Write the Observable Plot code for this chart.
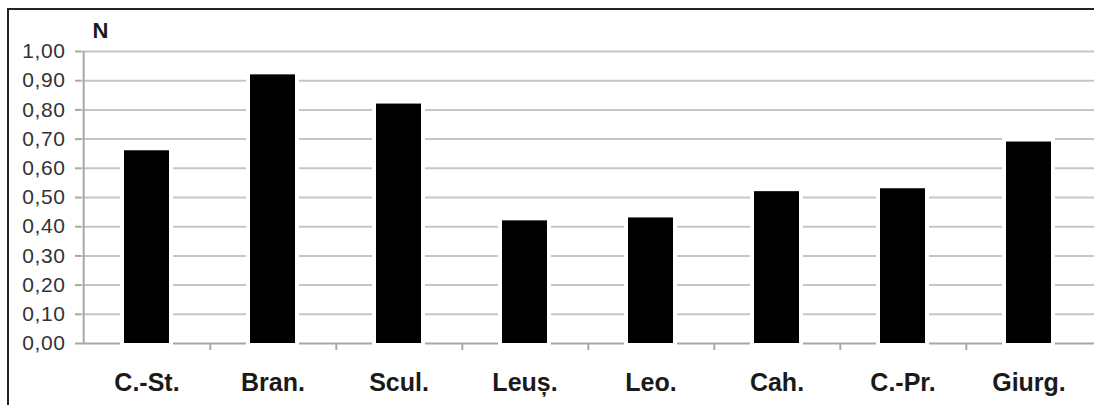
<!DOCTYPE html>
<html>
<head>
<meta charset="utf-8">
<script src="https://cdn.jsdelivr.net/npm/d3@7"></script>
<script src="https://cdn.jsdelivr.net/npm/@observablehq/plot@0.6"></script>
<style>
  html, body { margin: 0; padding: 0; background: #fff; overflow: hidden; }
  #wrap { position: relative; width: 1094px; height: 405px; overflow: hidden; }
  #bt { position: absolute; left: 7px; top: 8px; width: 1087px; height: 2px; background: #222; }
  #bl { position: absolute; left: 7px; top: 8px; width: 2px; height: 397px; background: #222; }
</style>
</head>
<body>
<div id="wrap"><div id="chart"></div><div id="bt"></div><div id="bl"></div></div>
<script>
const categories = ["C.-St.", "Bran.", "Scul.", "Leuș.", "Leo.", "Cah.", "C.-Pr.", "Giurg."];
const values = [0.66, 0.92, 0.82, 0.42, 0.43, 0.52, 0.53, 0.69];
const yTicks = [0, 0.1, 0.2, 0.3, 0.4, 0.5, 0.6, 0.7, 0.8, 0.9, 1.0];
const yLabel = "N";

const data = categories.map((c, i) => ({category: c, value: values[i]}));

const W = 1094, H = 405, mL = 81, mR = 0, mT = 51, mB = 62;
const step = (W - mL - mR) / categories.length;
const fmt = d => d.toFixed(2).replace(".", ",");

const chart = Plot.plot({
  width: W,
  height: H,
  marginLeft: mL,
  marginRight: mR,
  marginTop: mT,
  marginBottom: mB,
  style: {fontFamily: "'Liberation Sans', Arial, sans-serif", background: "#fff", overflow: "hidden"},
  x: {domain: categories, paddingInner: 0.64, paddingOuter: 0.32},
  y: {domain: [0, 1]},
  marks: [
    Plot.ruleY(yTicks.filter(d => d > 0), {stroke: "#c6c6c6", strokeWidth: 2}),
    Plot.ruleY([0], {stroke: "#a8a8a8", strokeWidth: 2}),
    Plot.barY(data, {x: "category", y: "value", fill: "#fff", insetLeft: -4, insetRight: -4, insetTop: -4, insetBottom: -2}),
    Plot.barY(data, {x: "category", y: "value", fill: "#000"}),
    Plot.ruleX([categories[0]], {x: d => d, dx: -step / 2, stroke: "#a8a8a8", strokeWidth: 2}),
    Plot.axisX(categories.slice(0, -1), {tickSize: 7, text: null, dx: step / 2, stroke: "#a8a8a8", strokeWidth: 2, label: null}),
    Plot.axisX({tickSize: 0, tickPadding: 30, fontSize: 25, fontWeight: "bold", fill: "#1a1a1a", label: null}),
    Plot.axisY({ticks: yTicks, tickSize: 6, text: null, stroke: "#a8a8a8", strokeWidth: 2, label: null}),
    Plot.axisY({ticks: yTicks, tickSize: 0, tickPadding: 16, tickFormat: fmt, fontSize: 21, fill: "#333", label: null}),
    Plot.text([yLabel], {frameAnchor: "top-left", dx: 11, dy: -21, textAnchor: "start", lineAnchor: "middle", fontSize: 22, fontWeight: "bold", fill: "#1a1a1a"})
  ]
});
d3.select(chart).selectAll('g[aria-label="y-axis tick label"] text').attr("letter-spacing", "0.6px");
document.getElementById("chart").appendChild(chart);
</script>
</body>
</html>
